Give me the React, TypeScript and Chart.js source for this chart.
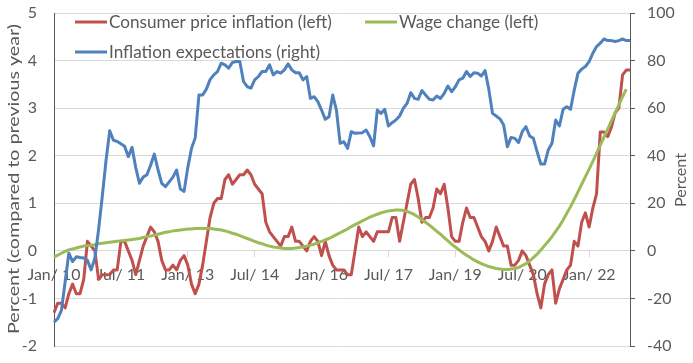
import React, { useEffect, useRef } from 'react';
import { Chart, registerables } from 'chart.js';

Chart.register(...registerables);

// ---------- data ----------
const monthNames = ['Jan', 'Feb', 'Mar', 'Apr', 'May', 'Jun', 'Jul', 'Aug', 'Sep', 'Oct', 'Nov', 'Dec'];
const yearLabels = ['10', '11', '12', '13', '14', '15', '16', '17', '18', '19', '20', '21', '22'];
const categories: string[] = [];
for (const y of yearLabels) for (const m of monthNames) categories.push(`${m}/ ${y}`);

const tickLabels = ['Jan/ 10', 'Jul/ 11', 'Jan/ 13', 'Jul/ 14', 'Jan/ 16', 'Jul/ 17', 'Jan/ 19', 'Jul/ 20', 'Jan/ 22'];

// Consumer price inflation (left axis, %)
const cpiInflation = [
  -1.3, -1.1, -1.1, -1.2, -0.9, -0.7, -0.9, -0.9, -0.6, 0.2, 0.1, 0.0,
  -0.6, -0.5, -0.5, -0.5, -0.4, -0.4, 0.2, 0.2, 0.0, -0.2, -0.5, -0.2,
  0.1, 0.3, 0.5, 0.4, 0.2, -0.2, -0.4, -0.4, -0.3, -0.4, -0.2, -0.1,
  -0.3, -0.7, -0.9, -0.7, -0.3, 0.2, 0.7, 1.0, 1.1, 1.1, 1.5, 1.6,
  1.4, 1.5, 1.6, 1.6, 1.7, 1.6, 1.4, 1.3, 1.2, 0.6, 0.4, 0.3,
  0.2, 0.1, 0.3, 0.3, 0.5, 0.2, 0.2, 0.1, 0.0, 0.2, 0.3, 0.2,
  -0.1, 0.2, -0.1, -0.3, -0.4, -0.4, -0.4, -0.5, -0.5, 0.0, 0.5, 0.3,
  0.4, 0.3, 0.2, 0.4, 0.4, 0.4, 0.4, 0.7, 0.7, 0.2, 0.6, 1.0,
  1.4, 1.5, 1.1, 0.6, 0.7, 0.7, 0.9, 1.3, 1.2, 1.4, 0.9, 0.3,
  0.2, 0.2, 0.6, 0.9, 0.7, 0.7, 0.5, 0.3, 0.2, 0.0, 0.2, 0.5,
  0.3, 0.1, 0.1, -0.3, -0.3, -0.2, 0.0, -0.1, -0.3, -0.5, -0.9, -1.2,
  -0.7, -0.5, -0.4, -1.1, -0.8, -0.6, -0.4, -0.3, 0.2, 0.1, 0.6, 0.8,
  0.5, 0.9, 1.2, 2.5, 2.5, 2.4, 2.6, 2.9, 3.0, 3.7, 3.8, 3.8,
];

// Wage change (left axis, %)
const wageChange: (number | null)[] = [
  -0.13, -0.09, -0.05, -0.01, 0.02, 0.04, 0.06, 0.08, 0.10, 0.11, 0.12, 0.13,
  0.15, 0.16, 0.17, 0.18, 0.19, 0.20, 0.21, 0.22, 0.23, 0.24, 0.25, 0.26,
  0.28, 0.30, 0.31, 0.33, 0.35, 0.37, 0.39, 0.40, 0.42, 0.43, 0.44, 0.45,
  0.46, 0.46, 0.47, 0.47, 0.47, 0.47, 0.47, 0.46, 0.45, 0.44, 0.42, 0.40,
  0.37, 0.35, 0.32, 0.29, 0.26, 0.23, 0.20, 0.17, 0.15, 0.12, 0.10, 0.08,
  0.07, 0.06, 0.05, 0.05, 0.05, 0.06, 0.07, 0.08, 0.10, 0.12, 0.14, 0.17,
  0.20, 0.23, 0.26, 0.30, 0.34, 0.38, 0.42, 0.46, 0.51, 0.55, 0.59, 0.63,
  0.67, 0.71, 0.74, 0.77, 0.80, 0.82, 0.84, 0.85, 0.86, 0.86, 0.85, 0.83,
  0.80, 0.76, 0.71, 0.66, 0.60, 0.54, 0.48, 0.41, 0.35, 0.28, 0.21, 0.14,
  0.08, 0.02, -0.04, -0.09, -0.14, -0.19, -0.23, -0.27, -0.30, -0.33, -0.35, -0.37,
  -0.38, -0.39, -0.39, -0.38, -0.37, -0.35, -0.31, -0.27, -0.21, -0.14, -0.07, 0.02,
  0.11, 0.20, 0.30, 0.41, 0.52, 0.65, 0.79, 0.93, 1.08, 1.24, 1.40, 1.56,
  1.72, 1.88, 2.05, 2.22, 2.39, 2.56, 2.73, 2.90, 3.07, 3.24, 3.40, null,
];

// Inflation expectations (right axis, %)
const inflationExpectations = [
  -30, -28.5, -25, -13, -1, -4.5, -2.5, -2.8, -3, -4, -8, -3,
  9, 23, 38, 50.5, 46.5, 46, 45, 44, 39.6, 43.5, 35, 28.4,
  31, 32, 36, 40.7, 34, 28.4, 27, 29, 31, 34, 26, 25,
  35, 43, 47.5, 65.5, 65.5, 68, 72, 74, 75.4, 78.9, 78.2, 76.8,
  79.2, 79.6, 79.6, 71.2, 69, 68.4, 71.9, 73.3, 75.4, 75.4, 78.2, 74,
  75.4, 74.7, 76.1, 78.6, 76.1, 74.9, 74.9, 71.9, 73.3, 64.1, 64.8, 62.7,
  59.2, 55.3, 56.4, 65.5, 59.2, 45.2, 45.9, 43.1, 50.1, 49.4, 49.5, 49.7,
  50.8, 48, 44.1, 59.2, 57.8, 59.5, 52.5, 53.9, 55, 56.7, 59.9, 62,
  66.5, 64.1, 63.7, 67.4, 65.5, 63.7, 63.4, 65.1, 64.1, 66.2, 69.3, 66.9,
  69, 71.9, 72.6, 75.4, 73.3, 74.9, 74.7, 73.5, 75.8, 68, 57.8, 56.7,
  55.5, 52.9, 43.8, 47.7, 47.3, 45.5, 50.1, 52.2, 48.3, 47.3, 41.7, 36.5,
  36.5, 42.4, 45.2, 55, 52.5, 59.5, 60.6, 59.5, 67.6, 74.7, 76.4, 77.5,
  79.6, 83.1, 85.9, 87.3, 89.1, 88.4, 88.4, 88, 88.4, 89.1, 88.4, 88.4,
];

const seriesLabels = ['Consumer price inflation (left)', 'Wage change (left)', 'Inflation expectations (right)'];
const leftAxisTitle = 'Percent (compared to previous year)';
const rightAxisTitle = 'Percent';

// ---------- styling ----------
const RED = '#C0504D';
const GREEN = '#9BBB59';
const BLUE = '#4F81BD';
const TEXT = '#595959';
const GRID = '#D9D9D9';
const AXIS = '#595959';
const FAMILY = 'Lato, "Open Sans", sans-serif';

export default function App() {
  const ref = useRef<HTMLCanvasElement>(null);

  useEffect(() => {
    const canvas = ref.current;
    if (!canvas) return;

    const mctx = document.createElement('canvas').getContext('2d')!;
    const fit = (text: string, target: number) => {
      mctx.font = `20px ${FAMILY}`;
      return (20 * target) / mctx.measureText(text).width;
    };
    const tickSize = fit('Jan/ 10', 53);
    const legendSize = fit(seriesLabels[0], 223);
    const rightTitleSize = fit(rightAxisTitle, 54);

    const overlay = {
      id: 'overlay',
      afterDraw(chart: any) {
        const ctx = chart.ctx as CanvasRenderingContext2D;
        ctx.save();
        // legend
        const ds = chart.data.datasets;
        const spots = [
          { i: 0, x: 75, y: 22 },
          { i: 1, x: 365, y: 22 },
          { i: 2, x: 75, y: 52 },
        ];
        ctx.font = `${legendSize}px ${FAMILY}`;
        ctx.textBaseline = 'middle';
        ctx.textAlign = 'left';
        for (const s of spots) {
          ctx.strokeStyle = ds[s.i].borderColor;
          ctx.lineWidth = 3;
          ctx.lineCap = 'butt';
          ctx.beginPath();
          ctx.moveTo(s.x, s.y);
          ctx.lineTo(s.x + 32, s.y);
          ctx.stroke();
          ctx.fillStyle = TEXT;
          ctx.fillText(ds[s.i].label, s.x + 34, s.y + 0.5);
        }
        // left axis title (stretched along its length)
        ctx.font = `${tickSize}px ${FAMILY}`;
        const w = ctx.measureText(leftAxisTitle).width;
        ctx.save();
        ctx.translate(14, 179);
        ctx.rotate(-Math.PI / 2);
        ctx.scale(310 / w, 1);
        ctx.textAlign = 'center';
        ctx.textBaseline = 'middle';
        ctx.fillStyle = TEXT;
        ctx.fillText(leftAxisTitle, 0, 0);
        ctx.restore();
        // right axis title
        ctx.save();
        ctx.font = `${rightTitleSize}px ${FAMILY}`;
        ctx.translate(680.5, 180);
        ctx.rotate(-Math.PI / 2);
        ctx.textAlign = 'center';
        ctx.textBaseline = 'middle';
        ctx.fillStyle = TEXT;
        ctx.fillText(rightAxisTitle, 0, 0);
        ctx.restore();
        ctx.restore();
      },
    };

    const isShown = (i: number) => tickLabels.includes(categories[i]);

    const chart = new Chart(canvas, {
      type: 'line',
      data: {
        labels: categories,
        datasets: [
          {
            label: seriesLabels[0],
            data: cpiInflation,
            borderColor: RED,
            backgroundColor: RED,
            borderWidth: 3,
            pointRadius: 0,
            yAxisID: 'y',
            order: 2,
            borderJoinStyle: 'round',
          },
          {
            label: seriesLabels[1],
            data: wageChange,
            borderColor: GREEN,
            backgroundColor: GREEN,
            borderWidth: 3,
            pointRadius: 0,
            yAxisID: 'y',
            order: 1,
            borderJoinStyle: 'round',
          },
          {
            label: seriesLabels[2],
            data: inflationExpectations,
            borderColor: BLUE,
            backgroundColor: BLUE,
            borderWidth: 3,
            pointRadius: 0,
            yAxisID: 'y2',
            order: 0,
            borderJoinStyle: 'round',
          },
        ],
      },
      options: {
        responsive: false,
        animation: false,
        events: [],
        layout: { padding: { top: 13, bottom: 17, left: 0, right: 0 } },
        plugins: { legend: { display: false }, tooltip: { enabled: false }, title: { display: false } },
        font: { family: FAMILY },
        scales: {
          x: {
            type: 'category',
            position: { y: 0 } as any,
            offset: false,
            grid: {
              drawOnChartArea: false,
              drawTicks: true,
              tickLength: 6,
              tickWidth: 1,
              tickColor: (c: any) => (isShown(c.index) ? GRID : 'rgba(0,0,0,0)'),
            },
            border: { display: true, color: GRID, width: 1 },
            ticks: {
              autoSkip: false,
              maxRotation: 0,
              minRotation: 0,
              padding: 8,
              color: TEXT,
              font: { family: FAMILY, size: tickSize },
              callback: (_v: any, i: number) => (isShown(i) ? categories[i] : ''),
            },
          },
          y: {
            type: 'linear',
            position: 'left',
            min: -2,
            max: 5,
            afterFit: (s: any) => {
              s.width = 54;
              s.paddingTop = 0;
              s.paddingBottom = 0;
            },
            grid: { color: GRID, lineWidth: 1, drawTicks: false },
            border: { display: true, color: AXIS, width: 1 },
            ticks: {
              stepSize: 1,
              padding: 17,
              color: TEXT,
              font: { family: FAMILY, size: tickSize },
            },
          },
          y2: {
            type: 'linear',
            position: 'right',
            min: -40,
            max: 100,
            afterFit: (s: any) => {
              s.width = 63;
              s.paddingTop = 0;
              s.paddingBottom = 0;
            },
            grid: { drawOnChartArea: false, drawTicks: true, tickLength: 5, tickColor: AXIS },
            border: { display: true, color: AXIS, width: 1 },
            ticks: {
              stepSize: 20,
              padding: 12,
              color: TEXT,
              font: { family: FAMILY, size: tickSize },
            },
          },
        },
      } as any,
      plugins: [overlay],
    });

    return () => chart.destroy();
  }, []);

  return (
    <div style={{ position: 'absolute', left: 0, top: 0, width: 693, height: 363, background: '#fff' }}>
      <canvas ref={ref} width={693} height={363} style={{ display: 'block' }} />
    </div>
  );
}
